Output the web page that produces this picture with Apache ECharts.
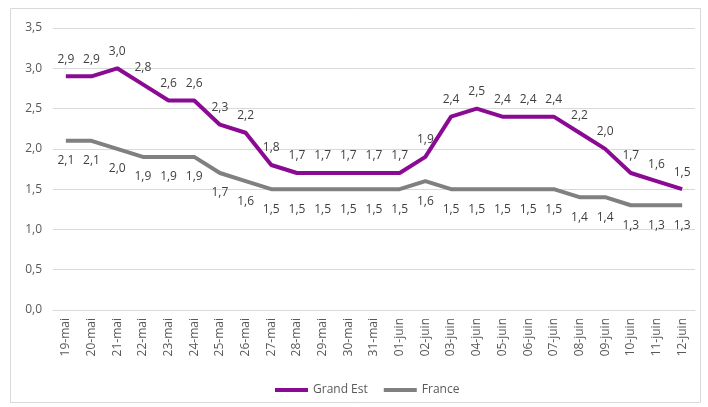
<!DOCTYPE html>
<html><head><meta charset="utf-8">
<script src="https://cdn.jsdelivr.net/npm/echarts@6/dist/echarts.min.js"></script>
<style>html,body{margin:0;padding:0;background:#fff}#c{width:708px;height:407px}</style>
</head><body><div id="c"></div>
<script>
const categories = ['19-mai','20-mai','21-mai','22-mai','23-mai','24-mai','25-mai','26-mai','27-mai','28-mai','29-mai','30-mai','31-mai','01-juin','02-juin','03-juin','04-juin','05-juin','06-juin','07-juin','08-juin','09-juin','10-juin','11-juin','12-juin'];
const grandEst = [2.9,2.9,3.0,2.8,2.6,2.6,2.3,2.2,1.8,1.7,1.7,1.7,1.7,1.7,1.9,2.4,2.5,2.4,2.4,2.4,2.2,2.0,1.7,1.6,1.5];
const france = [2.1,2.1,2.0,1.9,1.9,1.9,1.7,1.6,1.5,1.5,1.5,1.5,1.5,1.5,1.6,1.5,1.5,1.5,1.5,1.5,1.4,1.4,1.3,1.3,1.3];
const fmt = v => v.toFixed(1).replace('.', ',');
const font = 'Open Sans';
const chart = echarts.init(document.getElementById('c'));
chart.setOption({
  animation: false,
  textStyle: {fontFamily: font},
  graphic: [{type:'rect', shape:{x:10.5,y:8.5,width:690,height:394}, style:{fill:'none', stroke:'#d9d9d9', lineWidth:1}, silent:true}],
  grid: {left: 53, right: 13, top: 28, bottom: 97},
  legend: {
    bottom: 6, left: 270, itemWidth: 33, itemHeight: 4, itemGap: 16,
    icon: 'rect',
    textStyle: {color: '#595959', fontSize: 12, fontFamily: font},
    data: ['Grand Est', 'France']
  },
  xAxis: {
    type: 'category', data: categories, boundaryGap: true,
    axisLine: {lineStyle: {color: '#d9d9d9'}}, axisTick: {show: false},
    axisLabel: {rotate: 90, color: '#595959', fontSize: 12, interval: 0, margin: 8}
  },
  yAxis: {
    type: 'value', min: 0, max: 3.5, interval: 0.5,
    axisLine: {show: false}, axisTick: {show: false},
    splitLine: {lineStyle: {color: '#d9d9d9'}},
    axisLabel: {color: '#595959', fontSize: 12, margin: 11, formatter: v => fmt(v)}
  },
  series: [
    {name: 'Grand Est', type: 'line', data: grandEst, symbol: 'circle', symbolSize: 0.01, showSymbol: true,
     lineStyle: {width: 4, color: '#8B0A93'}, itemStyle: {color: '#8B0A93'},
     label: {show: true, position: 'top', distance: 11, color: '#404040', fontSize: 12, formatter: p => fmt(p.value)}},
    {name: 'France', type: 'line', data: france, symbol: 'circle', symbolSize: 0.01, showSymbol: true,
     lineStyle: {width: 4, color: '#808080'}, itemStyle: {color: '#808080'},
     label: {show: true, position: 'bottom', distance: 14, color: '#404040', fontSize: 12, formatter: p => fmt(p.value)}}
  ]
});
</script></body></html>
